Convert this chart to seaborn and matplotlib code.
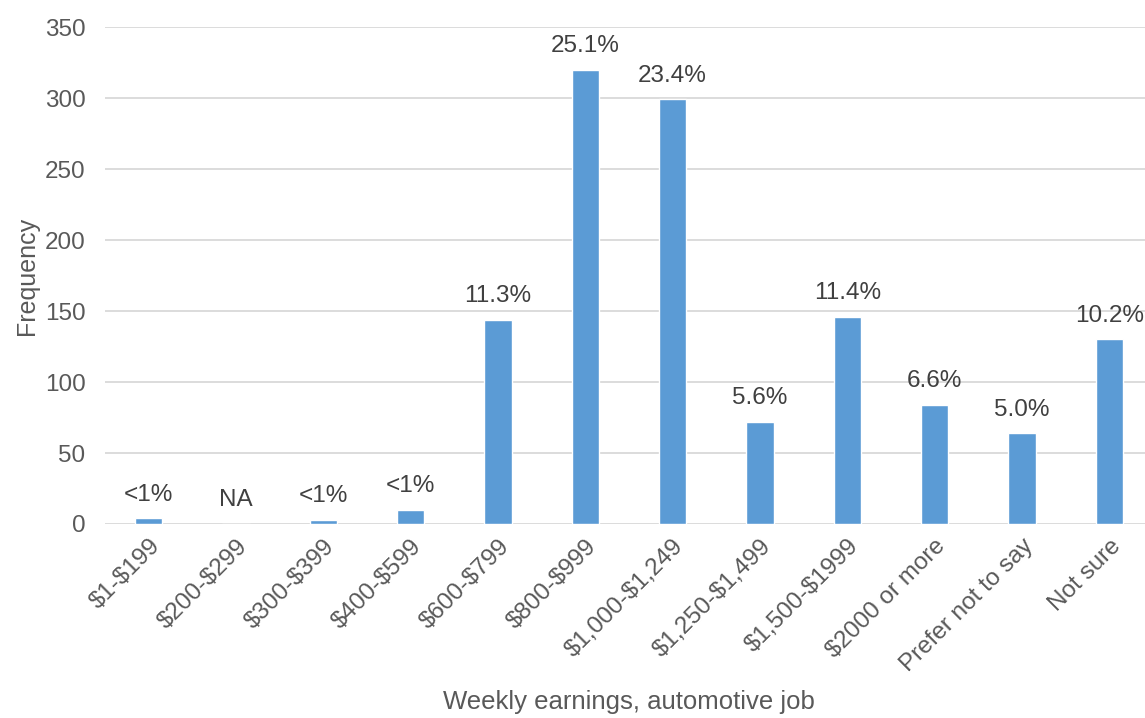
import matplotlib
matplotlib.use("Agg")
import matplotlib.pyplot as plt
import pandas as pd
import seaborn as sns

categories = [
    "$1-$199", "$200-$299", "$300-$399", "$400-$599", "$600-$799", "$800-$999",
    "$1,000-$1,249", "$1,250-$1,499", "$1,500-$1999", "$2000 or more",
    "Prefer not to say", "Not sure",
]
frequency = [4, 0, 3, 10, 144, 320, 299, 72, 146, 84, 64, 130]
bar_labels = ["<1%", "NA", "<1%", "<1%", "11.3%", "25.1%", "23.4%", "5.6%",
              "11.4%", "6.6%", "5.0%", "10.2%"]

sns.set_style("white")
plt.rcParams["font.family"] = ["Liberation Sans", "DejaVu Sans"]
plt.rcParams["text.parse_math"] = False

df = pd.DataFrame({"earnings": categories, "count": frequency})

fig = plt.figure(figsize=(11.45, 7.18), dpi=100)
ax = fig.add_axes([105 / 1145, 194 / 718, 1048 / 1145, 497 / 718])

sns.barplot(data=df, x="earnings", y="count", color="#5B9BD5", width=0.31,
            saturation=1, ax=ax, zorder=3)

ax.set_ylim(0, 350)
ax.set_xlim(-0.5, len(categories) - 0.5)
ax.set_yticks(range(0, 351, 50))
ax.grid(True, axis="y", color="#d9d9d9", linewidth=1.3, zorder=0)
ax.set_axisbelow(True)
for side in ["top", "right", "left", "bottom"]:
    ax.spines[side].set_visible(False)
ax.tick_params(axis="both", length=0, labelsize=17.5, labelcolor="#595959")
ax.tick_params(axis="y", pad=14)
ax.tick_params(axis="x", pad=8)
plt.setp(ax.get_xticklabels(), rotation=45, ha="right", rotation_mode="anchor")

for i, (val, lab) in enumerate(zip(frequency, bar_labels)):
    ax.annotate(lab, (i, val), xytext=(0, 9), textcoords="offset points",
                ha="center", va="bottom", fontsize=17.5, color="#404040")

ax.set_ylabel("Frequency", fontsize=18, color="#595959", labelpad=4)
ax.set_xlabel("Weekly earnings, automotive job", fontsize=18.5, color="#595959",
              labelpad=10)

fig.savefig("out.png", dpi=100)
